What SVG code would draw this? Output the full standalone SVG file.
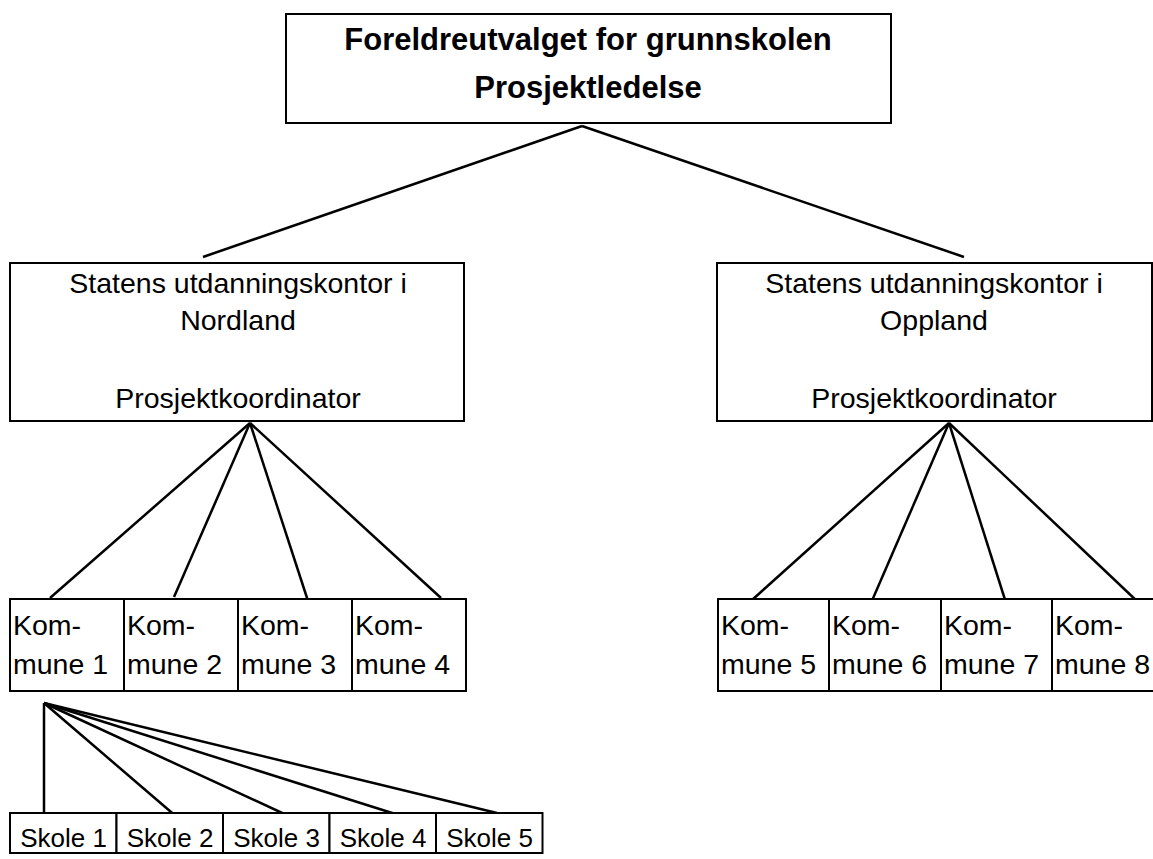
<svg xmlns="http://www.w3.org/2000/svg" width="1153" height="859" viewBox="0 0 1153 859">
<style>
.box{fill:#fff;stroke:#000;stroke-width:2}
.t{font-family:"Liberation Sans",Arial,sans-serif;font-size:28.5px;fill:#000}
.tb{font-family:"Liberation Sans",Arial,sans-serif;font-size:31px;font-weight:bold;fill:#000}
.ts{font-family:"Liberation Sans",Arial,sans-serif;font-size:26px;fill:#000;text-anchor:middle}
.c{stroke:#000;stroke-width:2.5;fill:none}
</style>
<rect width="1153" height="859" fill="#fff"/>
<g id="connectors">
<line class="c" x1="582" y1="126" x2="203" y2="257"/>
<line class="c" x1="582" y1="126" x2="964" y2="257"/>
<line class="c" x1="250" y1="423" x2="50" y2="598"/>
<line class="c" x1="250" y1="423" x2="174" y2="597"/>
<line class="c" x1="250" y1="423" x2="309" y2="604"/>
<line class="c" x1="250" y1="423" x2="441" y2="598"/>
<line class="c" x1="949" y1="423" x2="752" y2="600"/>
<line class="c" x1="949" y1="423" x2="871" y2="603"/>
<line class="c" x1="949" y1="423" x2="1007" y2="606"/>
<line class="c" x1="949" y1="423" x2="1139" y2="603"/>
<line class="c" x1="44" y1="703" x2="44" y2="817"/>
<line class="c" x1="44" y1="703" x2="178" y2="818"/>
<line class="c" x1="44" y1="703" x2="293" y2="818"/>
<line class="c" x1="44" y1="703" x2="408" y2="818"/>
<line class="c" x1="44" y1="703" x2="497" y2="813"/>
</g>
<g id="top">
<rect class="box" x="286" y="14" width="605" height="109"/>
<text class="tb" x="588" y="50" text-anchor="middle">Foreldreutvalget for grunnskolen</text>
<text class="tb" x="588" y="98" text-anchor="middle">Prosjektledelse</text>
</g>
<g id="nordland">
<rect class="box" x="10" y="263" width="454" height="158"/>
<text class="t" x="238" y="293" text-anchor="middle">Statens utdanningskontor i</text>
<text class="t" x="238" y="330" text-anchor="middle">Nordland</text>
<text class="t" x="238" y="408" text-anchor="middle">Prosjektkoordinator</text>
</g>
<g id="oppland">
<rect class="box" x="717" y="263" width="435" height="158"/>
<text class="t" x="934" y="293" text-anchor="middle">Statens utdanningskontor i</text>
<text class="t" x="934" y="330" text-anchor="middle">Oppland</text>
<text class="t" x="934" y="408" text-anchor="middle">Prosjektkoordinator</text>
</g>
<g id="k1"><rect class="box" x="10" y="599" width="114" height="92"/><text class="t" x="13" y="635">Kom-</text><text class="t" x="13" y="674">mune 1</text></g>
<g id="k2"><rect class="box" x="124" y="599" width="114" height="92"/><text class="t" x="127" y="635">Kom-</text><text class="t" x="127" y="674">mune 2</text></g>
<g id="k3"><rect class="box" x="238" y="599" width="114" height="92"/><text class="t" x="241" y="635">Kom-</text><text class="t" x="241" y="674">mune 3</text></g>
<g id="k4"><rect class="box" x="352" y="599" width="114" height="92"/><text class="t" x="355" y="635">Kom-</text><text class="t" x="355" y="674">mune 4</text></g>
<g id="k5"><rect class="box" x="718" y="599" width="111" height="92"/><text class="t" x="721" y="635">Kom-</text><text class="t" x="721" y="674">mune 5</text></g>
<g id="k6"><rect class="box" x="829" y="599" width="112" height="92"/><text class="t" x="832" y="635">Kom-</text><text class="t" x="832" y="674">mune 6</text></g>
<g id="k7"><rect class="box" x="941" y="599" width="111" height="92"/><text class="t" x="944" y="635">Kom-</text><text class="t" x="944" y="674">mune 7</text></g>
<g id="k8"><rect class="box" x="1052" y="599" width="112" height="92"/><text class="t" x="1055" y="635">Kom-</text><text class="t" x="1055" y="674">mune 8</text></g>
<g id="s1"><rect class="box" x="10" y="813" width="106.5" height="40"/><text class="ts" x="63.5" y="847">Skole 1</text></g>
<g id="s2"><rect class="box" x="116.5" y="813" width="106.5" height="40"/><text class="ts" x="170" y="847">Skole 2</text></g>
<g id="s3"><rect class="box" x="223" y="813" width="106.5" height="40"/><text class="ts" x="276.5" y="847">Skole 3</text></g>
<g id="s4"><rect class="box" x="329.5" y="813" width="106.5" height="40"/><text class="ts" x="383" y="847">Skole 4</text></g>
<g id="s5"><rect class="box" x="436" y="813" width="106.5" height="40"/><text class="ts" x="489.5" y="847">Skole 5</text></g>
</svg>
